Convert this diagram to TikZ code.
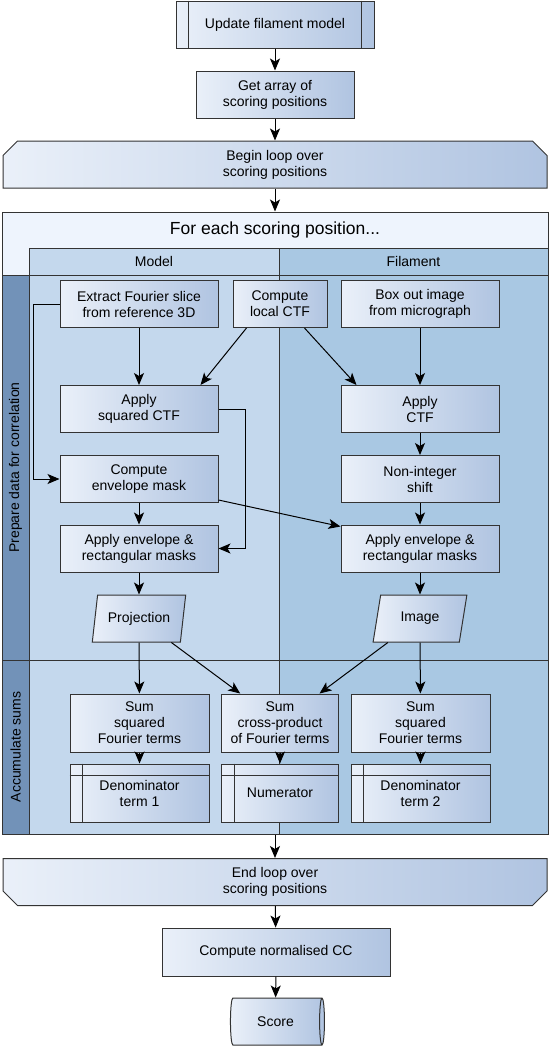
\documentclass[tikz,border=0pt]{standalone}
\usepackage{fontspec}
\setmainfont{Liberation Sans}
\usetikzlibrary{shapes.geometric, shapes.misc, arrows.meta, positioning, calc}
\definecolor{boxlight}{HTML}{EAF0F9}
\definecolor{boxdark}{HTML}{B0C4E1}
\definecolor{titleband}{HTML}{EEF4FD}
\definecolor{modellane}{HTML}{C4D8ED}
\definecolor{filamentlane}{HTML}{A9C8E3}
\definecolor{phaselane}{HTML}{7292B8}
\definecolor{edgegray}{HTML}{333333}
\tikzset{
	process/.style={rectangle, draw=edgegray, left color=boxlight, right color=boxdark, minimum width=158pt, minimum height=47pt, align=center, font=\fontsize{14}{16}\selectfont, inner sep=2pt},
	sumbox/.style={minimum width=139pt, minimum height=58pt},
	storebox/.style={process, minimum width=139pt, minimum height=58pt},
	loopstart/.style={process, chamfered rectangle, chamfered rectangle xsep=11pt, chamfered rectangle corners={north west, north east}, minimum width=544pt},
	loopend/.style={process, chamfered rectangle, chamfered rectangle xsep=11pt, chamfered rectangle corners={south west, south east}, minimum width=544pt},
	dataio/.style={process, trapezium, trapezium left angle=76, trapezium right angle=104, trapezium stretches=true, minimum width=94pt, minimum height=47pt},
	storedata/.style={process, cylinder, shape aspect=0.35, minimum width=47pt, minimum height=94pt},
	lanelabel/.style={font=\fontsize{14}{16}\selectfont, inner sep=0pt}
}
\begin{document}
\begin{tikzpicture}[x=1pt, y=-1pt, line width=1pt,
		>={Stealth[length=12pt, width=10pt, inset=3pt]}]
	\useasboundingbox (0,0) rectangle (550,1050);

	% --- Pool with lanes ---
	\fill[titleband] (2,212) rectangle (548,275);
	\fill[modellane] (29,248) rectangle (279,834);
	\fill[filamentlane] (279,248) rectangle (548,834);
	\fill[phaselane] (2,275) rectangle (29,834);
	\draw[edgegray] (29,248) -- (548,248);
	\draw[edgegray] (2,275) -- (548,275);
	\draw[edgegray] (2,660) -- (548,660);
	\draw[edgegray] (29,248) -- (29,834);
	\draw[edgegray] (279,248) -- (279,834);
	\node[draw=edgegray, minimum width=546pt, minimum height=622pt, inner sep=0pt] (pool) at (275,523) {};

	\node[font=\fontsize{17.5}{20}\selectfont] (pooltitle) at (275,230) {For each scoring position...};
	\node[lanelabel] (modelhead) at (154,261.5) {Model};
	\node[lanelabel] (filamenthead) at (413.5,261.5) {Filament};
	\node[lanelabel, rotate=90] (preparehead) at (15.5,467.5) {Prepare data for correlation};
	\node[lanelabel, rotate=90] (accumhead) at (15.5,747) {Accumulate sums};

	% --- Top of the chart ---
	\node[process, minimum width=198pt] (update) at (275,24.5) {Update filament model};
	\draw[edgegray] ([xshift=13pt]update.north west) -- ([xshift=13pt]update.south west);
	\draw[edgegray] ([xshift=-13pt]update.north east) -- ([xshift=-13pt]update.south east);
	\node[process] (getarray) at (275,94.5) {Get array of\\scoring positions};
	\node[loopstart] (beginloop) at (275,164.5) {Begin loop over\\scoring positions};

	% --- Prepare data ---
	\node[process] (extract) at (139,304) {Extract Fourier slice\\from reference 3D};
	\node[process, minimum width=94pt] (localctf) at (280,304) {Compute\\local CTF};
	\node[process] (boxout) at (420,304) {Box out image\\from micrograph};
	\node[process] (sqctf) at (139,409) {Apply\\squared CTF};
	\node[process] (applyctf) at (420,409) {Apply\\CTF};
	\node[process] (envmask) at (139,479) {Compute\\envelope mask};
	\node[process] (shift) at (420,479) {Non-integer\\shift};
	\node[process] (envrectmodel) at (139,548.5) {Apply envelope \&\\rectangular masks};
	\node[process] (envrectfil) at (420,548.5) {Apply envelope \&\\rectangular masks};
	\node[dataio] (projection) at (139,618.5) {Projection};
	\node[dataio] (image) at (420,618.5) {Image};

	% --- Accumulate sums ---
	\node[process, sumbox] (sumsqmodel) at (139.5,723) {Sum\\squared\\Fourier terms};
	\node[process, sumbox, minimum width=117pt] (sumcross) at (280,723) {Sum\\cross-product\\of Fourier terms};
	\node[process, sumbox] (sumsqfil) at (420.5,723) {Sum\\squared\\Fourier terms};
	\node[storebox] (denomone) at (139.5,793) {Denominator\\term 1};
	\node[storebox, minimum width=117pt] (numerator) at (280,793) {Numerator};
	\node[storebox] (denomtwo) at (420.5,793) {Denominator\\term 2};
	\foreach \n in {denomone,numerator,denomtwo} {
		\draw[edgegray] ([xshift=13pt]\n.north west) -- ([xshift=13pt]\n.south west);
		\draw[edgegray] ([yshift=-12pt]\n.north west) -- ([yshift=-12pt]\n.north east);
	}

	% --- Bottom of the chart ---
	\node[loopend] (endloop) at (275,882) {End loop over\\scoring positions};
	\node[process, minimum width=228pt, minimum height=48pt] (normcc) at (276,952) {Compute normalised CC};
	\node[storedata] (score) at (275.5,1021.5) {Score};

	% --- Connectors ---
	\draw[->] (update) -- (getarray);
	\draw[->] (getarray) -- (beginloop);
	\draw[->] (beginloop) -- (pool);
	\draw[->] (extract) -- (sqctf);
	\draw[->] ([xshift=14pt]localctf.south west) -- ([xshift=-18pt]sqctf.north east);
	\draw[->] ([xshift=-23pt]localctf.south east) -- ([xshift=16pt]applyctf.north west);
	\draw[->] (boxout) -- (applyctf);
	\draw[->] (applyctf) -- (shift);
	\draw[->] (shift) -- (envrectfil);
	\draw[->] (extract.west) -- ++(-26,0) |- (envmask.west);
	\draw[->] (sqctf.east) -- ++(27,0) |- (envrectmodel.east);
	\draw[->] (envmask) -- (envrectmodel);
	\draw[->] ([yshift=3pt]envmask.south east) -- ([yshift=-2pt]envrectfil.north west);
	\draw[->] (envrectmodel) -- (projection);
	\draw[->] (envrectfil) -- (image);
	\draw[->] (projection) -- (sumsqmodel);
	\draw[->] (projection) -- (sumcross);
	\draw[->] (image) -- (sumcross);
	\draw[->] (image) -- (sumsqfil);
	\draw[->] (sumsqmodel) -- (denomone);
	\draw[->] (sumcross) -- (numerator);
	\draw[->] (sumsqfil) -- (denomtwo);
	\draw[->] (pool) -- (endloop);
	\draw[->] (endloop) -- (normcc);
	\draw[->] (normcc) -- (score);
\end{tikzpicture}
\end{document}
